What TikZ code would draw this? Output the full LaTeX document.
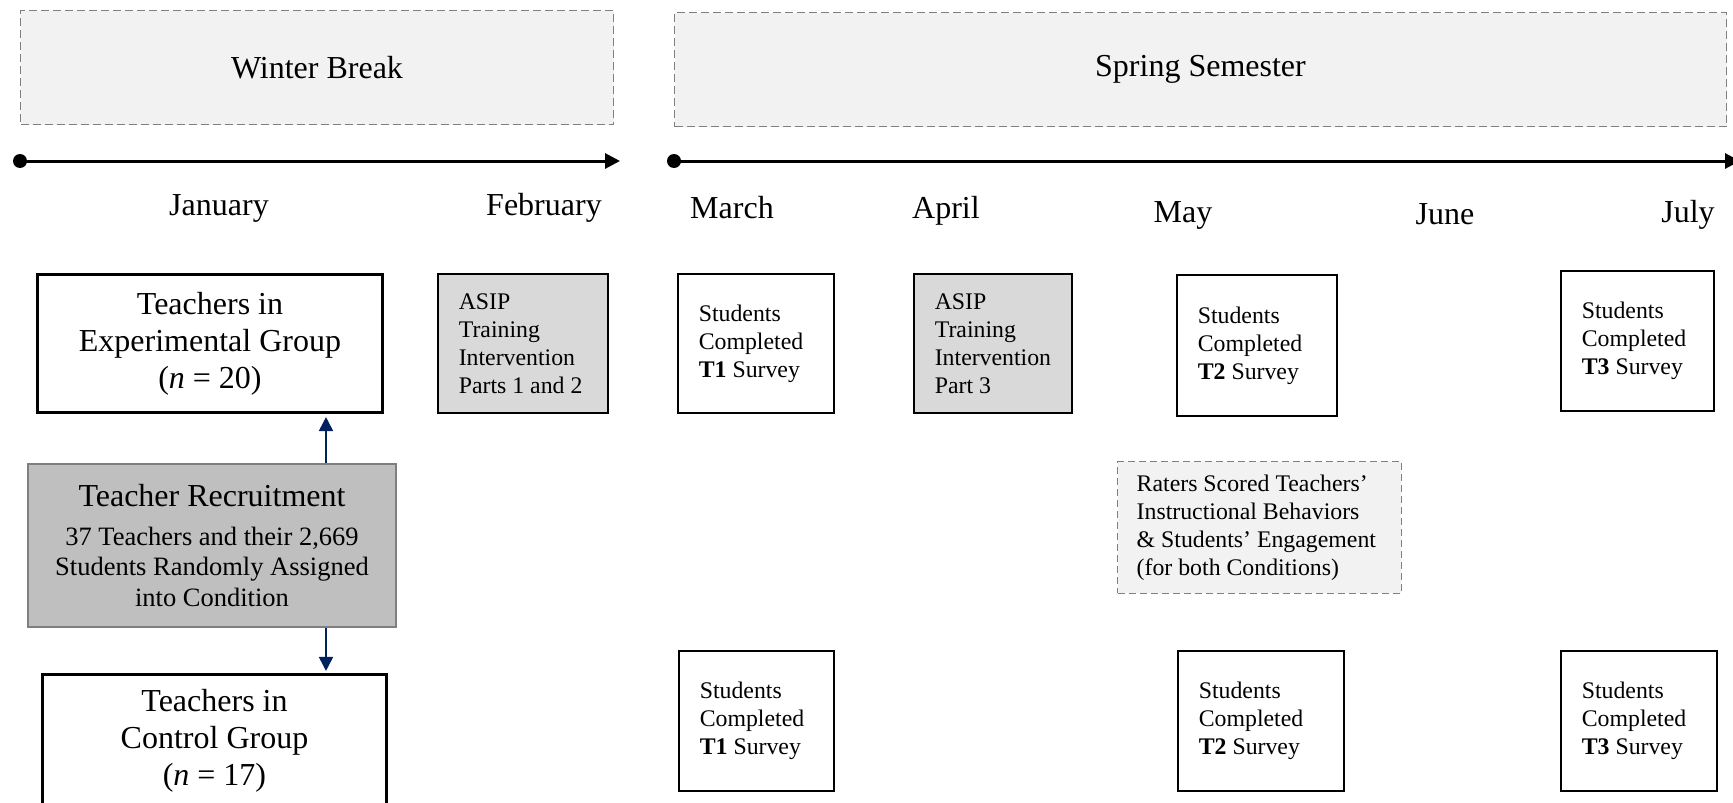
\documentclass[tikz,border=0pt]{standalone}
\usepackage{fontspec}
\setmainfont{Liberation Serif}
\usetikzlibrary{arrows.meta}
\definecolor{navy}{HTML}{002060}
\definecolor{dashgray}{HTML}{7F7F7F}
\definecolor{lightfill}{HTML}{F2F2F2}
\definecolor{asipfill}{HTML}{D9D9D9}
\definecolor{recfill}{HTML}{BFBFBF}
\newcommand{\bigf}{\fontsize{32}{37}\selectfont}
\newcommand{\smallf}{\fontsize{23.8}{28}\selectfont}
\newcommand{\subf}{\fontsize{26.5}{30.5}\selectfont}
\tikzset{
  period/.style={draw=dashgray, fill=lightfill, dash pattern=on 8pt off 4pt, line width=1.3pt, inner sep=0pt, font=\bigf},
  group/.style={draw=black, fill=white, line width=3.3pt, inner sep=0pt, align=flush center, font=\bigf},
  recruit/.style={draw=dashgray, fill=recfill, line width=2.3pt, inner sep=0pt, align=flush center, font=\subf},
  survey/.style={draw=black, fill=white, line width=1.6pt, inner sep=0pt, align=flush left, font=\smallf},
  training/.style={survey, fill=asipfill},
  rating/.style={draw=dashgray, fill=lightfill, dash pattern=on 7pt off 4pt, line width=1.4pt, inner sep=0pt, align=flush left, font=\smallf},
  month/.style={anchor=base, inner sep=0pt, font=\bigf},
  timeline/.style={line width=3pt, -{Triangle[length=15pt,width=15pt]}},
  dot/.style={circle, fill=black, inner sep=0pt, minimum size=14pt},
  link/.style={draw=navy, line width=1.8pt, -{Triangle[length=14pt,width=14pt]}, color=navy}
}
\begin{document}
\begin{tikzpicture}[x=1pt,y=-1pt]
\useasboundingbox (0,0) rectangle (1733,803);

% period boxes
\node[period, minimum width=593pt, minimum height=114pt] (winter) at (317,67.5) {Winter Break};
\node[period, minimum width=1052pt, minimum height=114pt] (spring) at (1200.5,69.5) {Spring Semester};

% timelines
\node[dot] (d1) at (20,161) {};
\coordinate (e1) at (620,161);
\draw[timeline] (d1.center) -- (e1);
\node[dot] (d2) at (674,161) {};
\coordinate (e2) at (1740,161);
\draw[timeline] (d2.center) -- (e2);

% months
\node[month] (jan) at (219,215) {January};
\node[month] (feb) at (544,215) {February};
\node[month] (mar) at (732,218) {March};
\node[month] (apr) at (946,218) {April};
\node[month] (may) at (1183,222) {May};
\node[month] (jun) at (1445,224) {June};
\node[month] (jul) at (1688,222) {July};

% left column
\node[group, minimum width=344.8pt, minimum height=137.8pt, text width=330pt] (exp) at (210,343.5)
  {Teachers in\\Experimental Group\\(\textit{n} = 20)};
\node[recruit, minimum width=368pt, minimum height=163pt, text width=360pt] (rec) at (212,545.5)
  {{\bigf Teacher Recruitment\par}\vspace{8.5pt}37 Teachers and their 2,669\\Students Randomly Assigned\\into Condition};
\node[group, minimum width=343.8pt, minimum height=131.4pt, text width=330pt] (ctrl) at (214.5,740.3)
  {Teachers in\\Control Group\\(\textit{n} = 17)};

\coordinate (ax) at (326,0);
\draw[link, shorten >=3pt] (rec.north -| ax) -- (exp.south -| ax);
\draw[link, shorten >=2pt] (rec.south -| ax) -- (ctrl.north -| ax);

% top row
\node[training, minimum width=170.4pt, minimum height=139.4pt, text width=128.4pt] (asip1) at (523,343.5)
  {ASIP\\Training\\Intervention\\\mbox{Parts 1 and 2}\par\vspace{6pt}};
\node[survey, minimum width=156.4pt, minimum height=139.4pt, text width=114.4pt] (t1a) at (756,343.5)
  {Students\\Completed\\\textbf{T1} Survey};
\node[training, minimum width=158.4pt, minimum height=139.4pt, text width=116.4pt] (asip3) at (993,343.5)
  {ASIP\\Training\\Intervention\\Part 3\par\vspace{6pt}};
\node[survey, minimum width=160.4pt, minimum height=141.4pt, text width=118.4pt] (t2a) at (1257,345.5)
  {Students\\Completed\\\textbf{T2} Survey};
\node[survey, minimum width=153.4pt, minimum height=140.4pt, text width=111.4pt] (t3a) at (1637.5,341)
  {Students\\Completed\\\textbf{T3} Survey};

% raters
\node[rating, minimum width=283.6pt, minimum height=131.6pt, text width=245.6pt] (raters) at (1259.5,527.5)
  {\mbox{Raters Scored Teachers’}\\\mbox{Instructional Behaviors}\\\mbox{\& Students’ Engagement}\\(for both Conditions)};

% bottom row
\node[survey, minimum width=155.4pt, minimum height=140.4pt, text width=113.4pt] (t1b) at (756.5,721)
  {Students\\Completed\\\textbf{T1} Survey};
\node[survey, minimum width=166.4pt, minimum height=140.4pt, text width=124.4pt] (t2b) at (1261,721)
  {Students\\Completed\\\textbf{T2} Survey};
\node[survey, minimum width=156.4pt, minimum height=140.4pt, text width=114.4pt] (t3b) at (1639,721)
  {Students\\Completed\\\textbf{T3} Survey};
\end{tikzpicture}
\end{document}
